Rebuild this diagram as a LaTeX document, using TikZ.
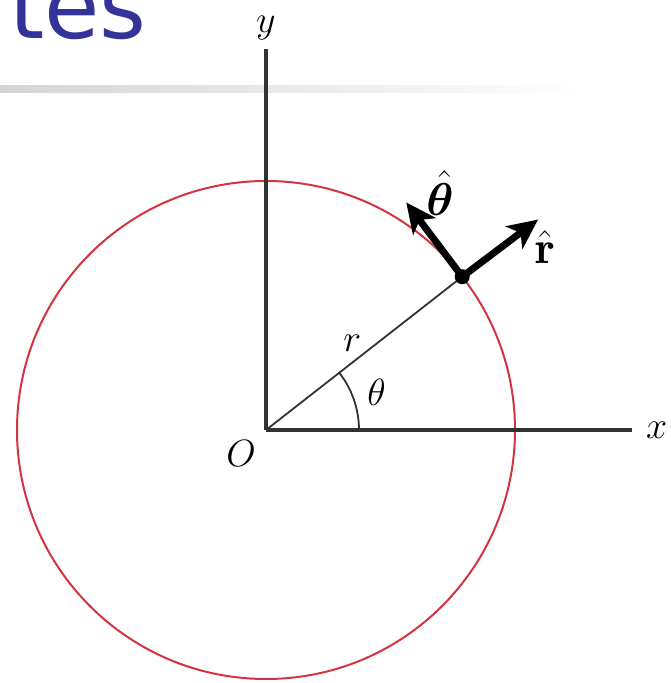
\RequirePackage{fix-cm}
\documentclass[tikz,border=0pt]{standalone}
\usepackage{fontspec}
\usepackage{amsmath}
\usepackage{bm}
\usetikzlibrary{arrows.meta, positioning, calc}
\newfontfamily\titlefont{DejaVu Sans}
\definecolor{titleblue}{RGB}{51,51,153}
\definecolor{circred}{RGB}{212,52,66}
\definecolor{axisgray}{RGB}{50,50,50}
\definecolor{rulegray}{RGB}{212,212,212}
\tikzset{
    axis/.style={draw=axisgray, line width=3.4pt},
    thinline/.style={draw=axisgray, line width=1.8pt},
    unitvec/.style={-{Stealth[length=30pt, width=28pt, inset=8pt]}, line width=7pt, black},
    lbl/.style={inner sep=0pt, font=\fontsize{38}{44}\selectfont},
    hatlbl/.style={inner sep=0pt, font=\fontsize{46}{52}\selectfont}
}

\begin{document}
\begin{tikzpicture}[x=1pt, y=1pt]
    \useasboundingbox (0,0) rectangle (671,683);
    \clip (0,0) rectangle (671,683);

    % slide title remains
    \node[anchor=base west, inner sep=0pt, text=titleblue] (title) at (9,644) {\titlefont\fontsize{90}{96}\selectfont tes};
    \shade[left color=rulegray, right color=white] (0,590) rectangle (580,597);

    \coordinate (o) at (266,253);
    \coordinate (ytop) at (266,634);
    \coordinate (xend) at (632,253);
    \coordinate (p) at ($(o)+(38:249)$);
    \coordinate (rtip) at ($(p)+(37:95)$);
    \coordinate (ttip) at ($(p)+(127:93)$);

    \draw[circred, line width=2pt] (o) circle (249);

    \draw[axis] (o) -- (ytop);
    \draw[axis] (o) -- (xend);
    \draw[thinline] (o) -- node[lbl, above, pos=0.44, yshift=10pt] (rlbl) {$r$} (p);
    \draw[thinline] ($(o)+(93,0)$) arc[start angle=0, end angle=38, radius=93];

    \node[lbl, above=9pt of ytop] (ylbl) {$y$};
    \node[lbl, right=14pt of xend] (xlbl) {$x$};
    \node[lbl, below left=10pt and 10pt of o] (olbl) {$O$};
    \node[lbl] (thlbl) at ($(o)+(19:117)$) {$\theta$};

    \draw[unitvec] (p) -- (rtip);
    \draw[unitvec] (p) -- (ttip);
    \fill[black] (p) circle (7.5);

    \node[hatlbl] (rhat) at (545,436) {$\hat{\mathbf{r}}$};
    \node[hatlbl] (thhat) at (440,490) {$\hat{\bm{\theta}}$};
\end{tikzpicture}
\end{document}
